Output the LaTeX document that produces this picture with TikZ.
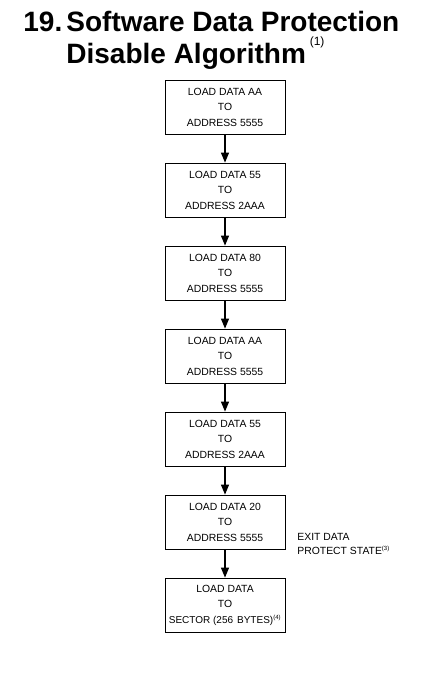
\documentclass[tikz,border=0pt]{standalone}
\usepackage{fontspec}
\setmainfont{Liberation Sans}
\usetikzlibrary{positioning,arrows.meta}
\newcommand{\fnote}[1]{\textsuperscript{\fontsize{6}{6}\selectfont(#1)}}

\begin{document}
\begin{tikzpicture}[node distance={83pt},line width=0.8pt,
  main/.style = {draw, rectangle, minimum width=120pt, minimum height=54pt, inner xsep=1pt, align=center, font=\fontsize{10.4}{15.5}\selectfont},
  link/.style = {-{Triangle[length=10pt,width=8pt]}, line width=1.1pt}]
\useasboundingbox (0,0) rectangle (445pt,-700pt);
% title
\node[anchor=base west, inner sep=0, font=\fontsize{28}{32}\selectfont\bfseries] (num) at (23pt,-32pt) {19.};
\node[anchor=base west, inner sep=0, font=\fontsize{28}{32}\selectfont\bfseries] (ttl1) at (66pt,-32pt) {Software Data Protection};
\node[anchor=base west, inner sep=0, font=\fontsize{28}{32}\selectfont\bfseries] (ttl2) at (66pt,-64pt) {Disable Algorithm};
\node[anchor=base west, inner sep=0, font=\fontsize{12}{13}\selectfont] (n1) at (ttl2.base east) [xshift=3pt, yshift=18pt] {(1)};
% steps
\node[main] (1) at (225pt,-107pt) {LOAD DATA AA\\TO\\ADDRESS 5555};
\node[main] (2) [below of=1] {LOAD DATA 55\\TO\\ADDRESS 2AAA};
\node[main] (3) [below of=2] {LOAD DATA 80\\TO\\ADDRESS 5555};
\node[main] (4) [below of=3] {LOAD DATA AA\\TO\\ADDRESS 5555};
\node[main] (5) [below of=4] {LOAD DATA 55\\TO\\ADDRESS 2AAA};
\node[main] (6) [below of=5] {LOAD DATA 20\\TO\\ADDRESS 5555};
\node[main] (7) [below of=6] {LOAD DATA\\TO\\{\fontsize{10}{15.5}\selectfont SECTOR (256\hspace{4pt}BYTES)\fnote{4}}};
\node[anchor=west, align=left, inner sep=0, font=\fontsize{10.4}{14}\selectfont] (exit) at (297pt,-544pt) {EXIT DATA\\PROTECT STATE\fnote{3}};
\draw[link] (1) to (2);
\draw[link] (2) to (3);
\draw[link] (3) to (4);
\draw[link] (4) to (5);
\draw[link] (5) to (6);
\draw[link] (6) to (7);
\end{tikzpicture}
\end{document}
